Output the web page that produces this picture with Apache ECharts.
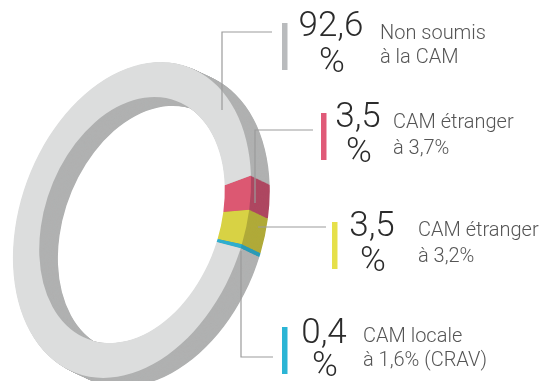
<!DOCTYPE html>
<html>
<head>
<meta charset="utf-8">
<script src="https://cdn.jsdelivr.net/npm/echarts@6/dist/echarts.min.js"></script>
<style>
  html, body { margin: 0; padding: 0; width: 544px; height: 381px; overflow: hidden; background: #ffffff; }
  #ring { position: absolute; left: -68px; top: 20px; width: 440px; height: 400px;
          transform-origin: 200px 200px; transform: rotate(20deg) scaleX(0.687); }
  #labels { position: absolute; left: 0; top: 0; width: 544px; height: 381px; }
</style>
</head>
<body>
<div id="ring"></div>
<div id="labels"></div>
<script>
// ---- data ----
const categories = ['CAM étranger à 3,7%', 'CAM étranger à 3,2%', 'CAM locale à 1,6% (CRAV)', 'Non soumis à la CAM'];
const values = [3.5, 3.5, 0.4, 92.6];
const descLine1 = ['CAM étranger', 'CAM étranger', 'CAM locale', 'Non soumis'];
const descLine2 = ['à 3,7%', 'à 3,2%', 'à 1,6% (CRAV)', 'à la CAM'];
const faceColors = ['#dc5872', '#d8d244', '#2eaecf', '#dcdddd'];
const wallColors = ['#ae4761', '#b0aa39', '#2a9bb7', '#b0b1b1'];
const barColors = ['#e05a78', '#e6e04a', '#2bb5d5', '#b9bbbd'];

// ---- ring (tilted via CSS transform) ----
const ring = echarts.init(document.getElementById('ring'), null, { renderer: 'svg' });
const depthX = 30, depthY = 2, steps = 30;
const series = [];
const pieData = (colors) => values.map((v, i) => ({ name: categories[i], value: v, itemStyle: { color: colors[i] } }));
const basePie = {
  type: 'pie', radius: [127, 163], startAngle: 30.4, clockwise: true,
  silent: true, label: { show: false }, labelLine: { show: false },
  emphasis: { disabled: true }, animation: false, itemStyle: { borderWidth: 0 }
};
for (let s = steps; s >= 1; s--) {
  series.push(Object.assign({}, basePie, {
    center: [200 + depthX * s / steps, 200 + depthY * s / steps],
    data: pieData(wallColors), z: steps - s + 1
  }));
}
series.push(Object.assign({}, basePie, { center: [200, 200], data: pieData(faceColors), z: steps + 2 }));
ring.setOption({ animation: false, series });

// ---- labels & leader lines ----
const labels = echarts.init(document.getElementById('labels'));
const numStr = values.map(v => v.toFixed(1).replace('.', ','));
// layout per item: [bar x, bar y, number center x, number mid y, % mid y, desc x, desc line1 y, desc line2 y]
const layout = [
  [321, 113, 358, 118, 153, 393, 123, 149],
  [332, 222, 372, 227, 262, 418, 231, 257],
  [282, 327, 324, 334, 367, 363, 337, 361],
  [282, 23, 331, 27, 63, 380, 34, 58]
];
const leaders = [
  [[255, 203], [255, 130], [313, 130]],
  [[258, 227], [326, 227]],
  [[241, 251], [241, 357], [273, 357]],
  [[222, 110], [222, 32], [272, 32]]
];
const fam = 'Roboto, "Helvetica Neue", Arial, sans-serif';
const graphic = [];
values.forEach((v, i) => {
  const L = layout[i];
  graphic.push({ type: 'polyline', silent: true, shape: { points: leaders[i] },
    style: { stroke: '#9b9b9b', lineWidth: 1.2, fill: null } });
  graphic.push({ type: 'rect', silent: true, shape: { x: L[0], y: L[1], width: 5.5, height: 47 },
    style: { fill: barColors[i] } });
  graphic.push({ type: 'text', silent: true, style: { text: numStr[i], x: L[2], y: L[3],
    fontSize: 35, fontWeight: 300, fontFamily: fam, fill: '#2b2b2b', align: 'center', verticalAlign: 'middle' } });
  graphic.push({ type: 'text', silent: true, style: { text: '%', x: L[2] + 1, y: L[4],
    fontSize: 35, fontWeight: 300, fontFamily: fam, fill: '#2b2b2b', align: 'center', verticalAlign: 'middle' } });
  graphic.push({ type: 'text', silent: true, style: { text: descLine1[i], x: L[5], y: L[6],
    fontSize: 20, fontWeight: 300, fontFamily: fam, fill: '#555555', align: 'left', verticalAlign: 'middle' } });
  graphic.push({ type: 'text', silent: true, style: { text: descLine2[i], x: L[5], y: L[7],
    fontSize: 20, fontWeight: 300, fontFamily: fam, fill: '#555555', align: 'left', verticalAlign: 'middle' } });
});
labels.setOption({ animation: false, graphic });
</script>
</body>
</html>
